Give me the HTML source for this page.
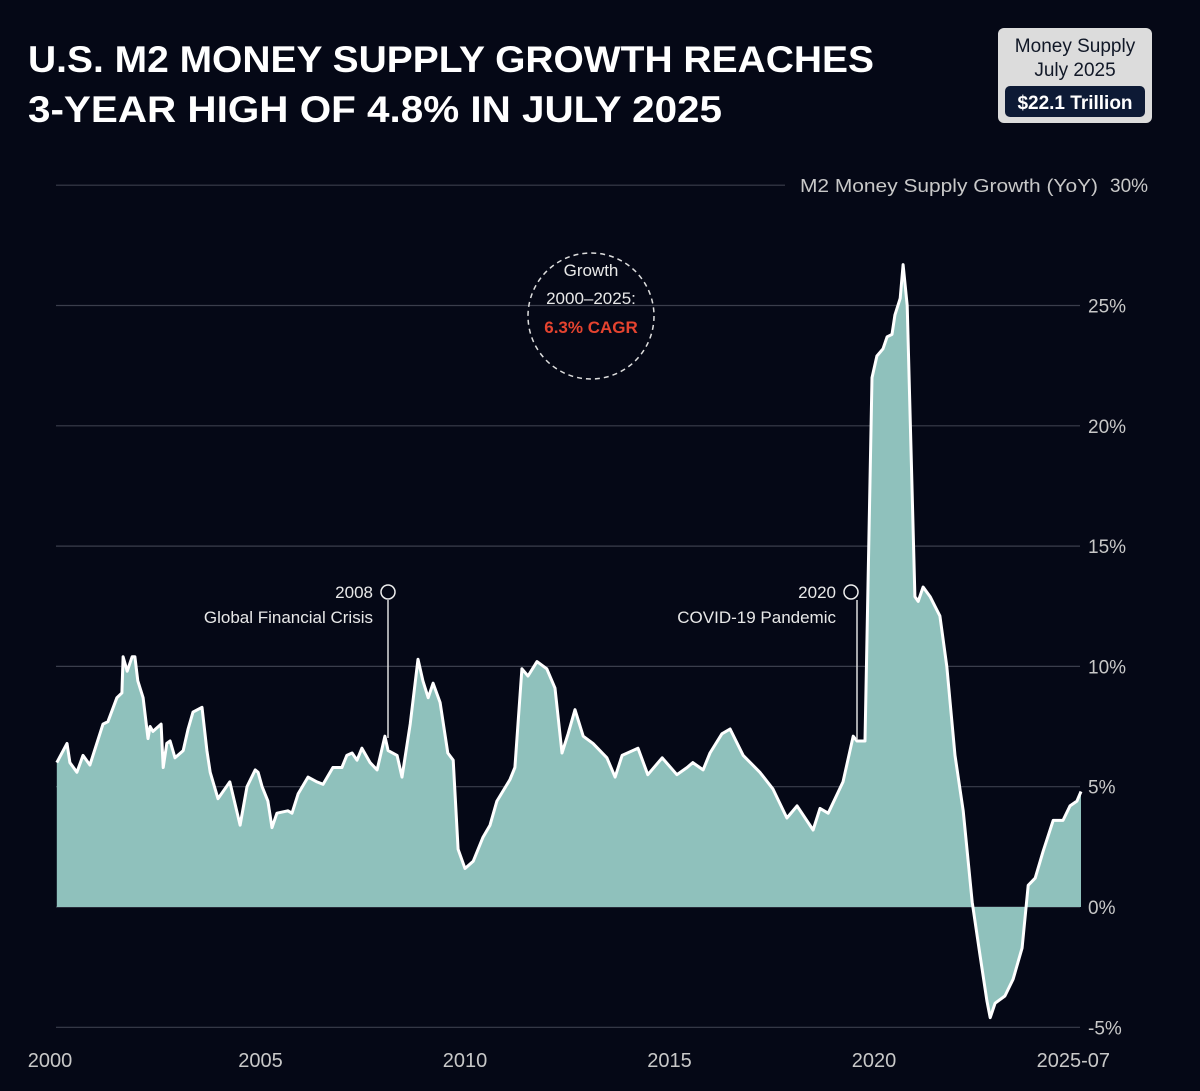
<!DOCTYPE html>
<html><head><meta charset="utf-8"><style>
html,body{margin:0;padding:0;background:#050816;}
svg{display:block;font-family:"Liberation Sans",sans-serif;}
</style></head><body>
<svg id="chart" width="1200" height="1091" viewBox="0 0 1200 1091">
<rect width="1200" height="1091" fill="#050816"/>
<text x="28" y="72" font-size="37" font-weight="bold" fill="#fff" textLength="846" lengthAdjust="spacingAndGlyphs">U.S. M2 MONEY SUPPLY GROWTH REACHES</text>
<text x="28" y="122" font-size="37" font-weight="bold" fill="#fff" textLength="694" lengthAdjust="spacingAndGlyphs">3-YEAR HIGH OF 4.8% IN JULY 2025</text>
<g>
<rect x="998" y="28" width="154" height="95" rx="6" fill="#dcdcdc"/>
<text x="1075" y="52" font-size="19" fill="#111827" text-anchor="middle">Money Supply</text>
<text x="1075" y="76" font-size="19" fill="#111827" text-anchor="middle">July 2025</text>
<rect x="1005" y="86" width="140" height="31" rx="5" fill="#0d1a35"/>
<text x="1075" y="109" font-size="19" font-weight="bold" fill="#fff" text-anchor="middle">$22.1 Trillion</text>
</g>
<g id="grid"></g>
<g id="plot"></g>
<g id="axes"></g>
<text x="800" y="192" font-size="18" fill="#c8c8c8" textLength="298" lengthAdjust="spacingAndGlyphs">M2 Money Supply Growth (YoY)</text>
<g>
<circle cx="591" cy="316" r="63" fill="none" stroke="#ddd" stroke-width="1.5" stroke-dasharray="5,4"/>
<text x="591" y="276" font-size="17" fill="#e8e8e8" text-anchor="middle">Growth</text>
<text x="591" y="304" font-size="17" fill="#e8e8e8" text-anchor="middle">2000–2025:</text>
<text x="591" y="333" font-size="17" font-weight="bold" fill="#e5432f" text-anchor="middle">6.3% CAGR</text>
</g>
<g>
<line x1="388" y1="600" x2="388" y2="738" stroke="#ddd" stroke-width="1.5"/>
<circle cx="388" cy="592" r="7" fill="#050816" stroke="#eee" stroke-width="1.5"/>
<text x="373" y="598" font-size="17" fill="#e8e8e8" text-anchor="end">2008</text>
<text x="373" y="623" font-size="17" fill="#e8e8e8" text-anchor="end">Global Financial Crisis</text>
</g>
<g>
<line x1="857" y1="600" x2="857" y2="740" stroke="#ddd" stroke-width="1.5"/>
<circle cx="851" cy="592" r="7" fill="#050816" stroke="#eee" stroke-width="1.5"/>
<text x="836" y="598" font-size="17" fill="#e8e8e8" text-anchor="end">2020</text>
<text x="836" y="623" font-size="17" fill="#e8e8e8" text-anchor="end">COVID-19 Pandemic</text>
</g>
</svg>
<script>
const years=[2000.02,2000.27,2000.34,2000.51,2000.66,2000.83,2001.15,2001.27,2001.49,2001.61,2001.64,2001.74,2001.86,2001.93,2002.00,2002.13,2002.25,2002.30,2002.37,2002.57,2002.62,2002.71,2002.79,2002.91,2003.11,2003.23,2003.35,2003.57,2003.69,2003.77,2003.96,2004.25,2004.50,2004.67,2004.87,2004.94,2005.04,2005.18,2005.28,2005.40,2005.67,2005.77,2005.92,2006.16,2006.38,2006.53,2006.77,2006.99,2007.11,2007.24,2007.36,2007.48,2007.68,2007.85,2008.04,2008.12,2008.34,2008.46,2008.66,2008.85,2008.97,2009.10,2009.22,2009.39,2009.58,2009.71,2009.83,2010.00,2010.20,2010.44,2010.61,2010.78,2011.10,2011.22,2011.39,2011.54,2011.76,2012.00,2012.20,2012.37,2012.52,2012.69,2012.89,2013.13,2013.47,2013.67,2013.84,2014.23,2014.47,2014.82,2015.18,2015.43,2015.57,2015.82,2015.99,2016.28,2016.48,2016.80,2017.21,2017.53,2017.87,2018.12,2018.51,2018.68,2018.88,2019.24,2019.49,2019.58,2019.78,2019.95,2020.07,2020.22,2020.32,2020.44,2020.51,2020.64,2020.71,2020.81,2021.00,2021.08,2021.20,2021.37,2021.49,2021.61,2021.78,2021.98,2022.18,2022.40,2022.59,2022.76,2022.84,2022.96,2023.20,2023.40,2023.62,2023.77,2023.94,2024.13,2024.38,2024.62,2024.79,2024.96,2025.06];
const growth=[6.0,6.8,6.0,5.6,6.3,5.9,7.6,7.7,8.7,8.9,10.4,9.8,10.4,10.4,9.4,8.7,7.0,7.5,7.3,7.6,5.8,6.8,6.9,6.2,6.5,7.4,8.1,8.3,6.5,5.6,4.5,5.2,3.4,5.0,5.7,5.6,5.0,4.4,3.3,3.9,4.0,3.9,4.7,5.4,5.2,5.1,5.8,5.8,6.3,6.4,6.1,6.6,6.0,5.7,7.1,6.5,6.3,5.4,7.6,10.3,9.4,8.7,9.3,8.5,6.4,6.1,2.4,1.6,1.9,2.9,3.4,4.4,5.3,5.8,9.9,9.6,10.2,9.9,9.1,6.4,7.2,8.2,7.1,6.8,6.2,5.4,6.3,6.6,5.5,6.2,5.5,5.8,6.0,5.7,6.4,7.2,7.4,6.3,5.6,4.9,3.7,4.2,3.2,4.1,3.9,5.2,7.1,6.9,6.9,22.0,22.9,23.2,23.7,23.8,24.6,25.3,26.7,25.0,12.9,12.7,13.3,12.9,12.5,12.1,10.0,6.3,4.0,0.2,-2.0,-3.9,-4.6,-4.0,-3.7,-3.0,-1.7,0.9,1.2,2.3,3.6,3.6,4.2,4.4,4.8];
const yTicks=[30,25,20,15,10,5,0,-5];
const yTickLabels=["30%","25%","20%","15%","10%","5%","0%","-5%"];
const xTicks=[2000,2005,2010,2015,2020];
const xTickLabels=["2000","2005","2010","2015","2020"];
const lastLabel="2025-07";

const X0=56,X1=1081,T0=2000,T1=2025.06;
const xs=t=>X0+(t-T0)/(T1-T0)*(X1-X0);
const ys=v=>907-v*24.06;
const NS="http://www.w3.org/2000/svg";
function mk(tag,attrs,parent){const e=document.createElementNS(NS,tag);for(const k in attrs)e.setAttribute(k,attrs[k]);parent.appendChild(e);return e;}
const grid=document.getElementById('grid'),plot=document.getElementById('plot'),axes=document.getElementById('axes');
yTicks.forEach((v,i)=>{
  const l=mk('line',{x1:X0,x2:(v===30?785:1080),y1:ys(v),y2:ys(v),stroke:'#3b3e4c','stroke-width':1.2},grid);
  
  
  const t=mk('text',{x:(i===0?1110:1088),y:ys(v)+7,'font-size':19,fill:'#c8c8c8'},axes);
  t.textContent=yTickLabels[i];
  
  
});
xTicks.forEach((yr,i)=>{
  const t=mk('text',{x:xs(yr)-(i===0?6:0),y:1067,'font-size':20,fill:'#c8c8c8','text-anchor':'middle'},axes);
  t.textContent=xTickLabels[i];
  
  
});
const lt=mk('text',{x:1110,y:1067,'font-size':20,fill:'#c8c8c8','text-anchor':'end'},axes);
lt.textContent=lastLabel;



let d='';years.forEach((t,i)=>{d+=(i?'L':'M')+xs(t).toFixed(1)+','+ys(growth[i]).toFixed(1);});
const area=mk('path',{d:d+'L'+xs(years[years.length-1]).toFixed(1)+','+ys(0)+'L'+xs(years[0]).toFixed(1)+','+ys(0)+'Z',fill:'#8fc1bc'},plot);


const line=mk('path',{d:d,fill:'none',stroke:'#fff','stroke-width':3,'stroke-linejoin':'round'},plot);


</script>
</body></html>
